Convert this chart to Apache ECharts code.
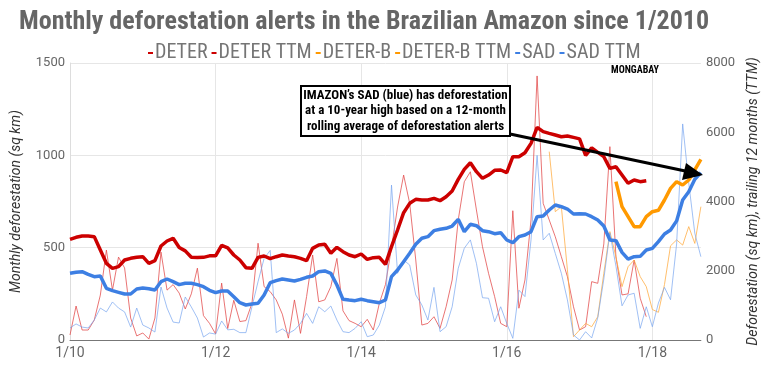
<!DOCTYPE html>
<html><head><meta charset="utf-8">
<script src="https://cdn.jsdelivr.net/npm/echarts@6/dist/echarts.min.js"></script>
<style>html,body{margin:0;padding:0;background:#fff}#c{width:768px;height:366px}</style>
</head><body><div id="c"></div>
<script>
// months Jan 2010 .. Sep 2018 (105 points)
const tickLabels = ['1/10','1/12','1/14','1/16','1/18'];
const months = [];
for (let y = 10; y <= 18; y++) for (let m = 1; m <= 12; m++) { if (months.length < 105) months.push(m + '/' + y); }

const deter = [27,184,54,54,108,243,487,270,449,390,119,22,
  38,5,119,476,270,300,254,168,250,389,132,90,
  33,308,62,215,100,105,199,524,289,262,217,140,
  10,217,36,235,460,207,217,289,442,158,105,90,
  72,112,54,199,300,500,720,893,740,433,81,90,
  126,63,180,325,650,857,911,704,505,361,235,90,
  72,700,172,325,650,1430,740,650,559,451,343,180,
  54,72,316,307,520,1047,450,244,250,433,226,126,
  null,null,null,null,null,null,null,null,null];
const deterTTM = [2908,2966,3003,3003,2985,2600,2215,2070,2118,2310,2359,2387,
  2407,2215,2291,2715,2859,2937,2670,2575,2390,2385,2387,2430,
  2430,2735,2660,2455,2310,2089,2070,2387,2426,2349,2406,2455,
  2426,2406,2359,2291,2647,2744,2763,2503,2677,2551,2455,2406,
  2484,2330,2378,2387,2186,2695,3177,3677,3947,4062,4043,4043,
  4092,4024,4139,4303,4640,4929,5120,4861,4669,4765,4900,4910,
  4833,5294,5294,5410,5679,6142,6017,5968,5920,5871,5891,5852,
  5810,5330,5550,5420,5294,4958,5005,4765,4525,4621,4573,4601,
  null,null,null,null,null,null,null,null,null];
const deterB = [null,null,null,null,null,null,null,null,null,null,null,null,
  null,null,null,null,null,null,null,null,null,null,null,null,
  null,null,null,null,null,null,null,null,null,null,null,null,
  null,null,null,null,null,null,null,null,null,null,null,null,
  null,null,null,null,null,null,null,null,null,null,null,null,
  null,null,null,null,null,null,null,null,null,null,null,null,
  null,null,null,null,null,null,null,1020,695,722,380,18,
  54,90,72,126,361,587,450,289,397,433,343,289,
  165,150,300,510,542,514,614,523,722];
const deterBTTM = [null,null,null,null,null,null,null,null,null,null,null,null,
  null,null,null,null,null,null,null,null,null,null,null,null,
  null,null,null,null,null,null,null,null,null,null,null,null,
  null,null,null,null,null,null,null,null,null,null,null,null,
  null,null,null,null,null,null,null,null,null,null,null,null,
  null,null,null,null,null,null,null,null,null,null,null,null,
  null,null,null,null,null,null,null,null,null,null,null,null,
  null,null,null,null,null,null,4573,3850,3562,3273,3273,3562,
  3706,3745,4043,4380,4573,4476,4621,4910,5217];
const sad = [65,87,70,65,108,173,152,206,173,152,70,173,
  81,65,43,287,173,97,92,233,179,119,16,38,
  32,103,55,58,40,40,180,316,442,485,40,60,
  36,54,90,144,90,180,153,184,108,45,40,63,
  99,18,27,81,180,839,361,433,406,244,190,108,
  285,45,72,180,388,497,542,415,229,226,99,180,
  90,9,270,235,542,1000,542,578,469,361,217,27,
  0,45,11,120,330,580,400,185,244,253,63,180,
  72,200,285,218,520,1170,850,578,451];
const sadTTM = [1925,1954,1973,1896,1829,1848,1492,1425,1377,1328,1328,1473,
  1502,1482,1444,1685,1762,1685,1600,1640,1640,1600,1540,1435,
  1367,1415,1415,1251,1078,1011,1040,1059,1300,1656,1713,1762,
  1733,1704,1752,1810,1848,1973,1993,1925,1588,1175,1155,1136,
  1175,1136,1107,1078,1155,1829,2021,2262,2503,2763,2937,2985,
  3158,3197,3226,3292,3485,3128,3341,3302,3158,3128,3070,3100,
  2888,2810,2985,3032,3128,3562,3581,3754,3899,3850,3783,3639,
  3645,3639,3562,3466,3292,2888,2869,2530,2335,2406,2416,2599,
  2647,2840,3061,3177,3440,4043,4280,4640,4833];

const COND = "'Roboto Condensed','Liberation Sans Narrow','DejaVu Sans Condensed',Roboto,sans-serif";
const RED = '#cc0000', ORANGE = '#ff9900', BLUE = '#3d7fe3';
const chart = echarts.init(document.getElementById('c'), null, {renderer: 'canvas'});
const showTick = (i, v) => tickLabels.indexOf(v) >= 0;
const plain = v => String(v);
function thin(name, data, color) {
  return {name, type: 'line', data, yAxisIndex: 0, symbol: 'none', connectNulls: false,
    lineStyle: {width: 1, color}, itemStyle: {color}, z: 2, animation: false};
}
function thick(name, data, color) {
  return {name, type: 'line', data, yAxisIndex: 1, symbol: 'none', connectNulls: false,
    lineStyle: {width: 3.5, color}, itemStyle: {color}, z: 3, animation: false};
}
chart.setOption({
  animation: false,
  title: {text: 'Monthly deforestation alerts in the Brazilian Amazon since 1/2010', left: 14, top: 4,
    textStyle: {fontFamily: COND, fontWeight: 'bold', fontSize: 26, color: '#666'}},
  legend: {top: 38, left: 143, icon: 'rect', itemWidth: 5, itemHeight: 2, itemGap: 4,
    textStyle: {fontFamily: COND, fontSize: 20, color: '#757575', padding: [0, 0, 0, -3]},
    data: [
      {name: 'DETER', itemStyle: {color: RED}}, {name: 'DETER TTM', itemStyle: {color: RED}},
      {name: 'DETER-B', itemStyle: {color: ORANGE}}, {name: 'DETER-B TTM', itemStyle: {color: ORANGE}},
      {name: 'SAD', itemStyle: {color: BLUE}}, {name: 'SAD TTM', itemStyle: {color: BLUE}}]},
  grid: {left: 70, right: 60, top: 63, bottom: 26},
  xAxis: {type: 'category', data: months, boundaryGap: false,
    axisLine: {lineStyle: {color: '#777', width: 1}}, axisTick: {show: false},
    axisLabel: {interval: showTick, color: '#666', fontSize: 14, fontFamily: 'Roboto', margin: 6},
    splitLine: {show: true, interval: showTick, lineStyle: {color: '#e6e6e6'}}},
  yAxis: [
    {type: 'value', min: 0, max: 1500, interval: 500,
      name: 'Monthly deforestation (sq km)', nameLocation: 'middle', nameGap: 47, nameRotate: 90,
      nameTextStyle: {fontStyle: 'italic', fontSize: 14, color: '#333', fontFamily: 'Roboto'},
      axisLine: {show: true, lineStyle: {color: '#ddd'}}, axisTick: {show: false},
      axisLabel: {color: '#666', fontSize: 13, fontFamily: 'Roboto', margin: 5, formatter: plain},
      splitLine: {lineStyle: {color: '#e6e6e6'}}},
    {type: 'value', min: 0, max: 8000, interval: 2000,
      name: 'Deforestation (sq km), trailing 12 months (TTM)', nameLocation: 'middle', nameGap: 40, nameRotate: 90,
      nameTextStyle: {fontStyle: 'italic', fontSize: 14, color: '#333', fontFamily: 'Roboto'},
      axisLine: {show: false}, axisTick: {show: false},
      axisLabel: {color: '#666', fontSize: 13, fontFamily: 'Roboto', margin: 5, formatter: plain},
      splitLine: {show: false}}
  ],
  series: [
    thin('DETER', deter, 'rgba(225,70,70,0.75)'),
    thick('DETER TTM', deterTTM, RED),
    thin('DETER-B', deterB, 'rgba(255,170,60,0.75)'),
    thick('DETER-B TTM', deterBTTM, ORANGE),
    thin('SAD', sad, 'rgba(120,165,240,0.7)'),
    thick('SAD TTM', sadTTM, BLUE)
  ],
  graphic: [
    {type: 'line', z: 10, shape: {x1: 510, y1: 134, x2: 690, y2: 172}, style: {stroke: '#000', lineWidth: 3}},
    {type: 'polygon', z: 10, shape: {points: [[703, 175], [686, 163], [682, 180]]}, style: {fill: '#000'}},
    {type: 'rect', z: 11, shape: {x: 301, y: 86, width: 209, height: 50}, style: {fill: '#fff', stroke: '#000', lineWidth: 2}},
    {type: 'text', z: 12, style: {x: 405.5, y: 111, text: "IMAZON’s SAD (blue) has deforestation\nat a 10-year high based on a 12-month\nrolling average of deforestation alerts",
      align: 'center', verticalAlign: 'middle', fill: '#000', font: "bold 13px " + COND, lineHeight: 15.5}},
    {type: 'text', z: 12, style: {x: 635, y: 70, text: 'MONGABAY', align: 'center', verticalAlign: 'middle', fill: '#000', font: "bold 10px " + COND}}
  ]
});
</script></body></html>
